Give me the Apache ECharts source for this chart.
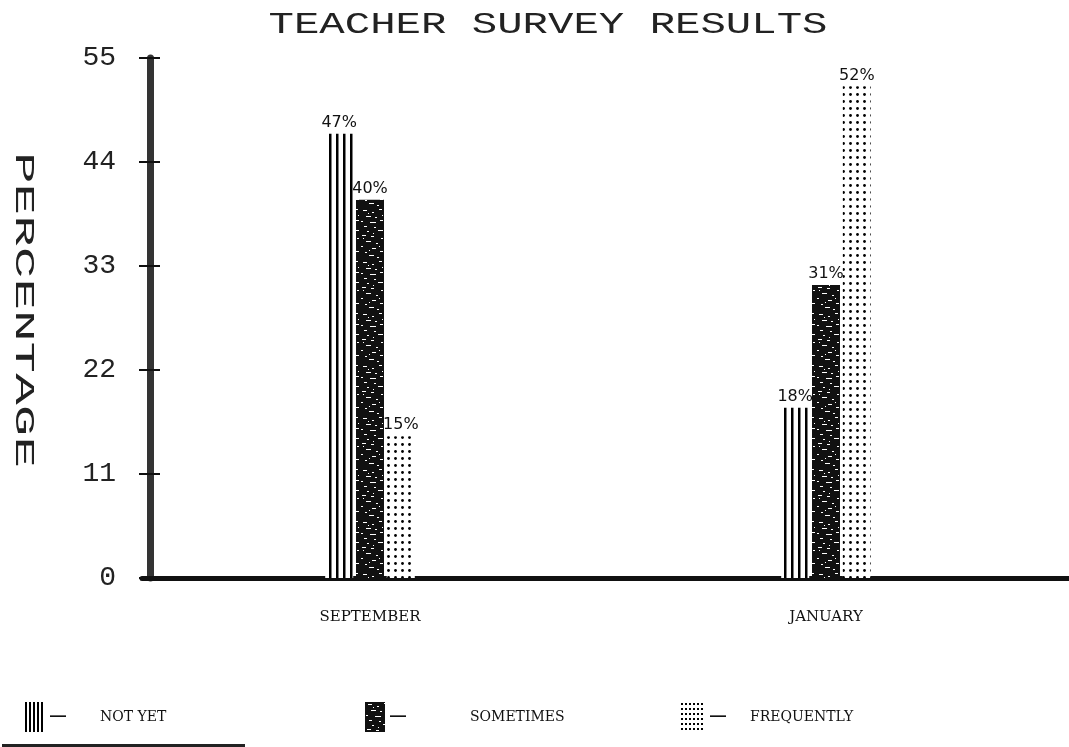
<!DOCTYPE html>
<html><head><meta charset="utf-8">
<script src="https://cdn.jsdelivr.net/npm/echarts@6/dist/echarts.min.js"></script>
<style>html,body{margin:0;padding:0;background:#fff}#c{width:1069px;height:747px}</style>
</head><body><div id="c"></div>
<script>
const categories = ['SEPTEMBER', 'JANUARY'];
const notYet = [47, 18];
const sometimes = [40, 31];
const frequently = [15, 52];
const yTicks = [0, 11, 22, 33, 44, 55];

function mk(w, h, draw) { const c = document.createElement('canvas'); c.width = w; c.height = h; const g = c.getContext('2d'); draw(g); return c; }
const linesPat = mk(7, 4, g => { g.fillStyle = '#fff'; g.fillRect(0,0,7,4); g.fillStyle = '#000'; g.fillRect(0,0,2.5,4); });
const linesPatSmall = mk(4, 4, g => { g.fillStyle = '#fff'; g.fillRect(0,0,4,4); g.fillStyle = '#000'; g.fillRect(0,0,2,4); });
const dotsPat = mk(7, 7, g => { g.fillStyle = '#fff'; g.fillRect(0,0,7,7); g.fillStyle = '#000'; g.beginPath(); g.arc(3.5,3.5,1.4,0,Math.PI*2); g.fill(); });
const dotsPatSmall = mk(4, 5, g => { g.fillStyle = '#fff'; g.fillRect(0,0,4,5); g.fillStyle = '#000'; g.fillRect(1,1,2,2); });
const speckle = [[3,2,4],[12,4,2],[19,1,3],[6,8,5],[15,9,2],[1,13,2],[10,14,6],[20,12,3],[4,18,3],[14,19,2],[18,22,5],[7,23,2],[2,27,4],[11,28,3],[21,30,2],[6,33,5],[16,35,2],[1,38,2],[12,40,4],[20,43,3],[5,44,2],[9,47,5],[17,49,2],[8,5,1],[22,7,1],[3,30,1],[13,25,1],[19,38,1],[9,42,1]];
const darkPat = mk(24, 52, g => { g.fillStyle = '#111'; g.fillRect(0,0,24,52); g.fillStyle = '#fff'; speckle.forEach(s => g.fillRect(s[0], s[1], s[2], 1)); });

const labelStyle = { show: true, position: 'top', distance: 3, formatter: '{c}%', fontFamily: 'DejaVu Sans', fontSize: 16, color: '#111' };
const legendText = { fontFamily: 'DejaVu Serif', fontSize: 14, color: '#111' };
function legendCfg(name, left, iconW, dashW, pat) {
  return { data: [{ name: name, itemStyle: { color: { image: pat, repeat: 'repeat' } } }], left: left, top: 697, itemWidth: iconW, itemHeight: 30, itemGap: 0, icon: 'rect',
    formatter: n => '{d|—}{t|' + n + '}',
    textStyle: { rich: { d: { width: dashW, fontSize: 16, fontWeight: 'bold', color: '#111' }, t: legendText } } };
}
const yBase = { type: 'value', min: 0, max: 55, interval: 11, offset: -8, splitLine: { show: false } };

const chart = echarts.init(document.getElementById('c'));
chart.setOption({
  animation: false,
  backgroundColor: '#fff',
  grid: { left: 142, right: 15, top: 58, bottom: 169 },
  graphic: [
    { type: 'text', x: 548, y: 25, scaleX: 1.46, style: { text: 'TEACHER SURVEY RESULTS', font: '29px "Liberation Mono"', fill: '#222', textAlign: 'center', textVerticalAlign: 'middle' } },
    { type: 'text', x: 23, y: 310, rotation: -Math.PI / 2, scaleX: 1.95, style: { text: 'PERCENTAGE', font: '27px "Liberation Mono"', fill: '#222', textAlign: 'center', textVerticalAlign: 'middle' } },
    { type: 'rect', shape: { x: 1054, y: 576, width: 15, height: 5 }, style: { fill: '#111' } },
    { type: 'rect', shape: { x: 2, y: 744, width: 243, height: 3 }, style: { fill: '#222' } }
  ],
  legend: [legendCfg('NOT YET', 20, 20, 50, linesPatSmall), legendCfg('SOMETIMES', 360, 20, 80, darkPat), legendCfg('FREQUENTLY', 675, 25, 40, dotsPatSmall)],
  xAxis: { type: 'category', data: categories,
    axisLine: { lineStyle: { color: '#111', width: 5 } }, axisTick: { show: false },
    axisLabel: { margin: 32, fontFamily: 'DejaVu Serif', fontSize: 15, color: '#111' } },
  yAxis: [
    Object.assign({}, yBase, {
      axisLine: { show: true, lineStyle: { color: '#333', width: 7 } },
      axisTick: { show: true, length: 11, lineStyle: { color: '#111', width: 2 } },
      axisLabel: { margin: 34, fontFamily: 'Liberation Mono', fontSize: 28, color: '#222',
        formatter: v => yTicks.includes(v) ? String(v) : '' } }),
    Object.assign({}, yBase, { position: 'left',
      axisLine: { show: false },
      axisTick: { show: true, inside: true, length: 10, lineStyle: { color: '#111', width: 2 } },
      axisLabel: { show: false } })
  ],
  series: [
    { name: 'NOT YET', type: 'bar', data: notYet, barWidth: 28, barGap: '10%', itemStyle: { color: { image: linesPat, repeat: 'repeat' } }, label: labelStyle },
    { name: 'SOMETIMES', type: 'bar', data: sometimes, barWidth: 28, barGap: '10%', itemStyle: { color: { image: darkPat, repeat: 'repeat' } }, label: labelStyle },
    { name: 'FREQUENTLY', type: 'bar', data: frequently, barWidth: 28, barGap: '10%', itemStyle: { color: { image: dotsPat, repeat: 'repeat' } }, label: labelStyle }
  ]
});
</script></body></html>
